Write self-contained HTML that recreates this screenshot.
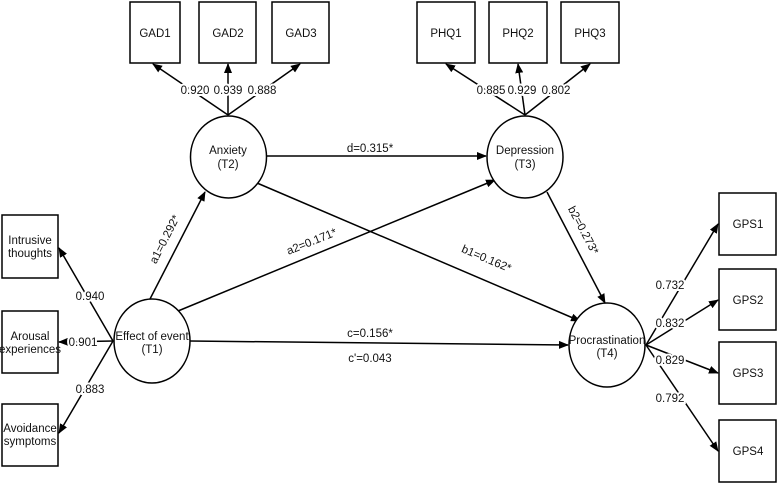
<!DOCTYPE html>
<html><head><style>body{margin:0;background:#fff}svg{display:block}text{font-family:"Liberation Sans",sans-serif;font-size:11.5px;fill:#111}.bg{paint-order:stroke;stroke:#fff;stroke-width:4px}</style></head><body>
<svg width="777" height="484" viewBox="0 0 777 484">
<defs><marker id="a" markerWidth="10" markerHeight="8" refX="9" refY="4" orient="auto" markerUnits="userSpaceOnUse"><path d="M0,0L10,4L0,8z" fill="#000"/></marker></defs>
<g fill="#fff" stroke="#000" stroke-width="1.5">
<rect x="130" y="2" width="50" height="61"/><rect x="199" y="2" width="57" height="61"/><rect x="272" y="2" width="57" height="61"/>
<rect x="417" y="2" width="58" height="61"/><rect x="489" y="2" width="58" height="61"/><rect x="561" y="2" width="58" height="61"/>
<rect x="2" y="215" width="56" height="63"/><rect x="2" y="311" width="56" height="62"/><rect x="2" y="404" width="56" height="62"/>
<rect x="719" y="193" width="57" height="62"/><rect x="719" y="269" width="57" height="61"/><rect x="719" y="342" width="57" height="62"/><rect x="719" y="420" width="57" height="62"/>
</g>
<g stroke="#000" stroke-width="1.5" fill="none" marker-end="url(#a)">
<line x1="228" y1="115" x2="153" y2="64"/><line x1="228" y1="115" x2="228" y2="64"/><line x1="228" y1="115" x2="300" y2="64"/>
<line x1="525" y1="115" x2="446" y2="64"/><line x1="525" y1="115" x2="518" y2="64"/><line x1="525" y1="115" x2="590" y2="64"/>
<line x1="113" y1="341" x2="59" y2="248"/><line x1="113" y1="341" x2="59" y2="342"/><line x1="113" y1="341" x2="59" y2="433"/>
<line x1="646" y1="345" x2="718" y2="224"/><line x1="646" y1="345" x2="718" y2="300"/><line x1="646" y1="345" x2="718" y2="373"/><line x1="646" y1="345" x2="718" y2="451"/>
<line x1="150" y1="299" x2="205" y2="192"/><line x1="178" y1="311" x2="495" y2="180"/><line x1="190" y1="341" x2="568" y2="345"/>
<line x1="267" y1="156" x2="486" y2="156"/><line x1="257" y1="183" x2="580" y2="321"/><line x1="547" y1="192" x2="605" y2="303"/>
</g>
<g fill="#fff" stroke="#000" stroke-width="1.5">
<ellipse cx="228.5" cy="157" rx="38" ry="41"/><ellipse cx="525" cy="157" rx="38" ry="41"/>
<ellipse cx="152" cy="341" rx="38" ry="42"/><ellipse cx="607" cy="345" rx="38" ry="42"/>
</g>
<g text-anchor="middle">
<text x="155" y="37">GAD1</text><text x="228" y="37">GAD2</text><text x="301" y="37">GAD3</text>
<text x="446" y="37">PHQ1</text><text x="518" y="37">PHQ2</text><text x="590" y="37">PHQ3</text>
<text x="748" y="228">GPS1</text><text x="748" y="304">GPS2</text><text x="748" y="377">GPS3</text><text x="748" y="455">GPS4</text>
<text x="30" y="244">Intrusive</text><text x="30" y="257">thoughts</text>
<text x="30" y="340">Arousal</text><text x="30" y="353">experiences</text>
<text x="30" y="432">Avoidance</text><text x="30" y="445">symptoms</text>
<text x="228" y="154">Anxiety</text><text x="228" y="168">(T2)</text>
<text x="525" y="154">Depression</text><text x="525" y="168">(T3)</text>
<text x="152" y="340">Effect of event</text><text x="152" y="353">(T1)</text>
<text x="607" y="344">Procrastination</text><text x="607" y="357">(T4)</text>
<g class="bg">
<text x="195" y="94">0.920</text><text x="228" y="94">0.939</text><text x="262" y="94">0.888</text>
<text x="491" y="94">0.885</text><text x="522" y="94">0.929</text><text x="556" y="94">0.802</text>
<text x="90" y="300">0.940</text><text x="83" y="346">0.901</text><text x="90" y="393">0.883</text>
<text x="670" y="289">0.732</text><text x="670" y="327">0.832</text><text x="670" y="364">0.829</text><text x="670" y="402">0.792</text>
</g>
<text x="370" y="152">d=0.315*</text>
<text x="370" y="337">c=0.156*</text><text x="370" y="362">c'=0.043</text>
<text transform="translate(168,241) rotate(-63)">a1=0.292*</text>
<text transform="translate(313,245) rotate(-22)">a2=0.171*</text>
<text transform="translate(485,262) rotate(23)">b1=0.162*</text>
<text transform="translate(580,232) rotate(62)">b2=0.273*</text>
</g>
</svg>
</body></html>
